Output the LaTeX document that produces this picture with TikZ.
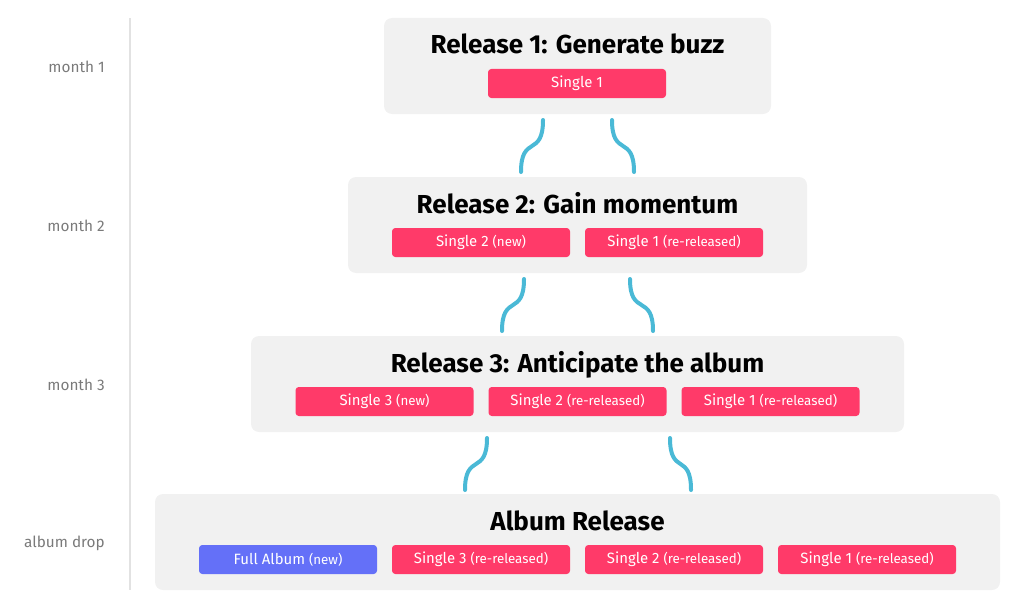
\documentclass[tikz,border=0pt]{standalone}
\usepackage{fontspec}
\setmainfont{Fira Sans}
\definecolor{boxbg}{HTML}{F1F1F1}
\definecolor{pill}{HTML}{FF3A69}
\definecolor{album}{HTML}{6470F8}
\definecolor{wire}{HTML}{4AB9D6}
\definecolor{axis}{HTML}{E2E2E2}
\definecolor{lbl}{HTML}{7A7A7A}
\begin{document}
\begin{tikzpicture}[x=0.75pt,y=-0.75pt,
  stage/.style={fill=boxbg,rounded corners=6pt,minimum height=72pt,inner sep=0pt},
  title/.style={font=\bfseries\fontsize{19.5}{22}\selectfont,inner sep=0pt,anchor=base},
  pillbox/.style={fill=pill,rounded corners=2.5pt,minimum width=133.5pt,minimum height=21.75pt,inner sep=0pt,text=white,font=\fontsize{11.2}{13}\selectfont},
  albumbox/.style={pillbox,fill=album},
  month/.style={anchor=east,text=lbl,font=\fontsize{11.5}{13}\selectfont,inner sep=0pt},
  link/.style={draw=wire,line width=3pt,line cap=round}]
\newcommand{\sm}[1]{{\fontsize{10}{12}\selectfont #1}}
\useasboundingbox (0,0) rectangle (1024,610);
\draw[axis,line width=1.5pt] (130,18) -- (130,590);
\node[month] (m1) at (105,67) {month 1};
\node[month] (m2) at (105,226) {month 2};
\node[month] (m3) at (105,385) {month 3};
\node[month] (m4) at (105,543) {album drop};
% boxes
\node[stage,minimum width=290.25pt] (b1) at (577.5,66) {};
\node[stage,minimum width=344.25pt] (b2) at (577.5,225) {};
\node[stage,minimum width=489.75pt] (b3) at (577.5,384) {};
\node[stage,minimum width=633.75pt] (b4) at (577.5,542) {};
\node[title] (t1) at (577.5,54) {Release 1: Generate buzz};
\node[title] (t2) at (577.5,213) {Release 2: Gain momentum};
\node[title] (t3) at (577.5,372) {Release 3: Anticipate the album};
\node[title] (t4) at (577.5,530) {Album Release};
\node[pillbox] (p11) at (577,83.5) {Single 1};
\node[pillbox] (p21) at (481,242.5) {Single 2 \sm{(new)}};
\node[pillbox] (p22) at (674,242.5) {Single 1 \sm{(re-released)}};
\node[pillbox] (p31) at (384.5,401.5) {Single 3 \sm{(new)}};
\node[pillbox] (p32) at (577.5,401.5) {Single 2 \sm{(re-released)}};
\node[pillbox] (p33) at (770.5,401.5) {Single 1 \sm{(re-released)}};
\node[albumbox] (p41) at (288,559.5) {Full Album \sm{(new)}};
\node[pillbox] (p42) at (481,559.5) {Single 3 \sm{(re-released)}};
\node[pillbox] (p43) at (674,559.5) {Single 2 \sm{(re-released)}};
\node[pillbox] (p44) at (867,559.5) {Single 1 \sm{(re-released)}};
% connectors
\coordinate (a1) at (543,120); \coordinate (a2) at (521,172);
\coordinate (a3) at (612,120); \coordinate (a4) at (634,172);
\coordinate (b1s) at (524,279); \coordinate (b2e) at (502,331);
\coordinate (b3s) at (630,279); \coordinate (b4e) at (653,331);
\coordinate (c1) at (487,438); \coordinate (c2) at (465,490);
\coordinate (c3) at (670,438); \coordinate (c4) at (691,490);
\draw[link] (a1) .. controls +(0,38) and +(0,-38) .. (a2);
\draw[link] (a3) .. controls +(0,38) and +(0,-38) .. (a4);
\draw[link] (b1s) .. controls +(0,38) and +(0,-38) .. (b2e);
\draw[link] (b3s) .. controls +(0,38) and +(0,-38) .. (b4e);
\draw[link] (c1) .. controls +(0,38) and +(0,-38) .. (c2);
\draw[link] (c3) .. controls +(0,38) and +(0,-38) .. (c4);
\end{tikzpicture}
\end{document}
